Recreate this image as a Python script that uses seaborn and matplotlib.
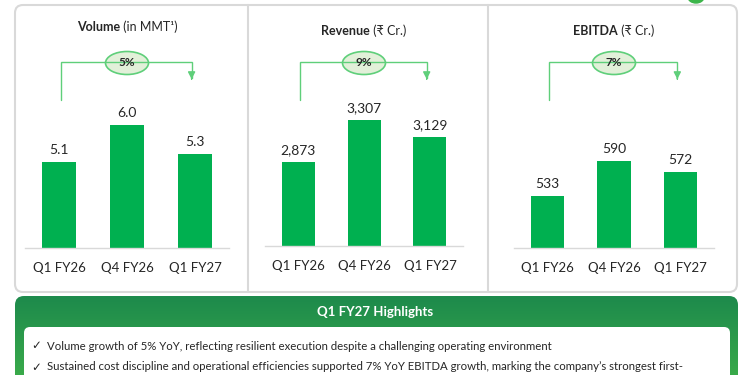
import numpy as np
import matplotlib.pyplot as plt
import matplotlib.transforms as mtransforms
from matplotlib.patches import FancyBboxPatch, Ellipse
from matplotlib.colors import LinearSegmentedColormap
import seaborn as sns

# data
periods = ['Q1 FY26', 'Q4 FY26', 'Q1 FY27']
volume = [5.1, 6.0, 5.3]
revenue = [2873, 3307, 3129]
ebitda = [533, 590, 572]
volume_labels = ['5.1', '6.0', '5.3']
revenue_labels = ['2,873', '3,307', '3,129']
ebitda_labels = ['533', '590', '572']
growth = ['5%', '9%', '7%']
titles_bold = ['Volume', 'Revenue', 'EBITDA']
titles_rest = [' (in MMT¹)', ' (₹ Cr.)', ' (₹ Cr.)']
highlights_title = 'Q1 FY27 Highlights'
highlights = [
    'Volume growth of 5% YoY, reflecting resilient execution despite a challenging operating environment',
    'Sustained cost discipline and operational efficiencies supported 7% YoY EBITDA growth, marking the company\u2019s strongest first-',
]

sns.set_theme(style='white')
plt.rcParams['font.family'] = ['Lato', 'DejaVu Sans']

BAR = '#00b050'
LINE = '#5fcf7a'
TXT = '#262626'
W, H = 750, 375

fig = plt.figure(figsize=(7.5, 3.75), dpi=100)
fig.patch.set_facecolor('white')

bg = fig.add_axes([0, 0, 1, 1], zorder=0)
bg.set_axis_off()

# panel frame with dividers
frame = FancyBboxPatch((15, 5), 722, 287, boxstyle='round,pad=0,rounding_size=8',
                       facecolor='white', edgecolor='#d9d9d9', lw=1.5)
bg.add_patch(frame)
for xd in [248, 488]:
    bg.plot([xd, xd], [5, 292], color='#d9d9d9', lw=1.5)
bg.add_patch(Ellipse((696, -3), 16, 12, color='#3cb54a'))

# highlights box with vertical gradient
green = FancyBboxPatch((15, 296), 723, 110, boxstyle='round,pad=0,rounding_size=9',
                       facecolor='none', edgecolor='none')
bg.add_patch(green)
cmap = LinearSegmentedColormap.from_list('g', ['#1d8a4c', '#44b649'])
grad = np.linspace(0, 1, 100).reshape(-1, 1)
im = bg.imshow(grad, cmap=cmap, extent=[15, 738, 406, 296], aspect='auto', zorder=1)
im.set_clip_path(green)
inner = FancyBboxPatch((24, 327), 706, 80, boxstyle='round,pad=0,rounding_size=6',
                       facecolor='white', edgecolor='none', zorder=2)
bg.add_patch(inner)
bg.text(375, 312, highlights_title, color='white', fontsize=9.5, fontweight='bold',
        ha='center', va='center', zorder=3)
for i, line in enumerate(highlights):
    y = 346 + i * 21
    bg.text(31, y, '\u2713', fontsize=8.5, ha='left', va='center', color=TXT, zorder=3,
            family=['DejaVu Sans'])
    bg.text(47, y, line, fontsize=8.2, ha='left', va='center', color=TXT, zorder=3)
bg.set_xlim(0, W)
bg.set_ylim(H, 0)

fg = fig.add_axes([0, 0, 1, 1], zorder=5)
fg.set_axis_off()
fg.patch.set_alpha(0)
fg.set_xlim(0, W)
fg.set_ylim(H, 0)

# (left px, width px, baseline px, ylim)
panels = [
    (volume, volume_labels, (25, 204, 248, (3.0, 6.66)), 27),
    (revenue, revenue_labels, (265, 198, 246, (2000, 3550)), 31),
    (ebitda, ebitda_labels, (514, 200, 248, (448, 692)), 31),
]

titles = []
for k, (vals, labs, (lpx, wpx, base, ylim), ty) in enumerate(panels):
    ax = fig.add_axes([lpx / W, (H - base) / H, wpx / W, 150 / H], zorder=3)
    ax.patch.set_alpha(0)
    sns.barplot(x=periods, y=vals, ax=ax, color=BAR, saturation=1, width=0.5,
                linewidth=0)
    ax.set_xlim(-0.5, 2.5)
    ax.set_ylim(*ylim)
    for s in ['top', 'left', 'right']:
        ax.spines[s].set_visible(False)
    ax.spines['bottom'].set_color('#d9d9d9')
    ax.spines['bottom'].set_linewidth(1)
    ax.set_yticks([])
    ax.set_xlabel('')
    ax.set_ylabel('')
    ax.tick_params(axis='x', length=0, pad=10, labelsize=9.5, labelcolor=TXT)
    for i, (v, t) in enumerate(zip(vals, labs)):
        ax.annotate(t, (i, v), xytext=(0, 4), textcoords='offset points',
                    ha='center', va='bottom', fontsize=10, color=TXT,
                    annotation_clip=False)

    tr = mtransforms.blended_transform_factory(ax.transData, fg.transData)
    # growth bracket
    fg.plot([0.03, 0.03, 1.95, 1.95], [100, 62, 62, 78], color=LINE, lw=1,
            transform=tr, solid_joinstyle='miter')
    fg.annotate('', xy=(1.95, 82), xytext=(1.95, 76), xycoords=tr, textcoords=tr,
                arrowprops=dict(arrowstyle='-|>,head_length=0.35,head_width=0.18',
                                color=LINE, lw=1))
    cx = fg.transData.inverted().transform(tr.transform((1, 62)))[0]
    fg.add_patch(Ellipse((cx, 63), 43, 23, facecolor='#e2f0d9', edgecolor=LINE, lw=1.2))
    fg.text(cx, 63, growth[k], ha='center', va='center', fontsize=8.5,
            fontweight='bold', color=TXT)

    t1 = fg.text(cx, ty, titles_bold[k], ha='left', va='center', fontsize=9,
                 fontweight='bold', color=TXT)
    t2 = fg.annotate(titles_rest[k], xy=(1, 0), xycoords=t1, ha='left', va='bottom',
                     fontsize=9, color=TXT)
    titles.append((t1, t2, cx, ty))

fig.canvas.draw()
r = fig.canvas.get_renderer()
for t1, t2, cx, ty in titles:
    b1 = t1.get_window_extent(r)
    b2 = t2.get_window_extent(r)
    total = b2.x1 - b1.x0
    cdisp = fg.transData.transform((cx, ty))
    newx = fg.transData.inverted().transform((cdisp[0] - total / 2, cdisp[1]))[0]
    t1.set_x(newx)

fig.savefig('out.png', dpi=100)
